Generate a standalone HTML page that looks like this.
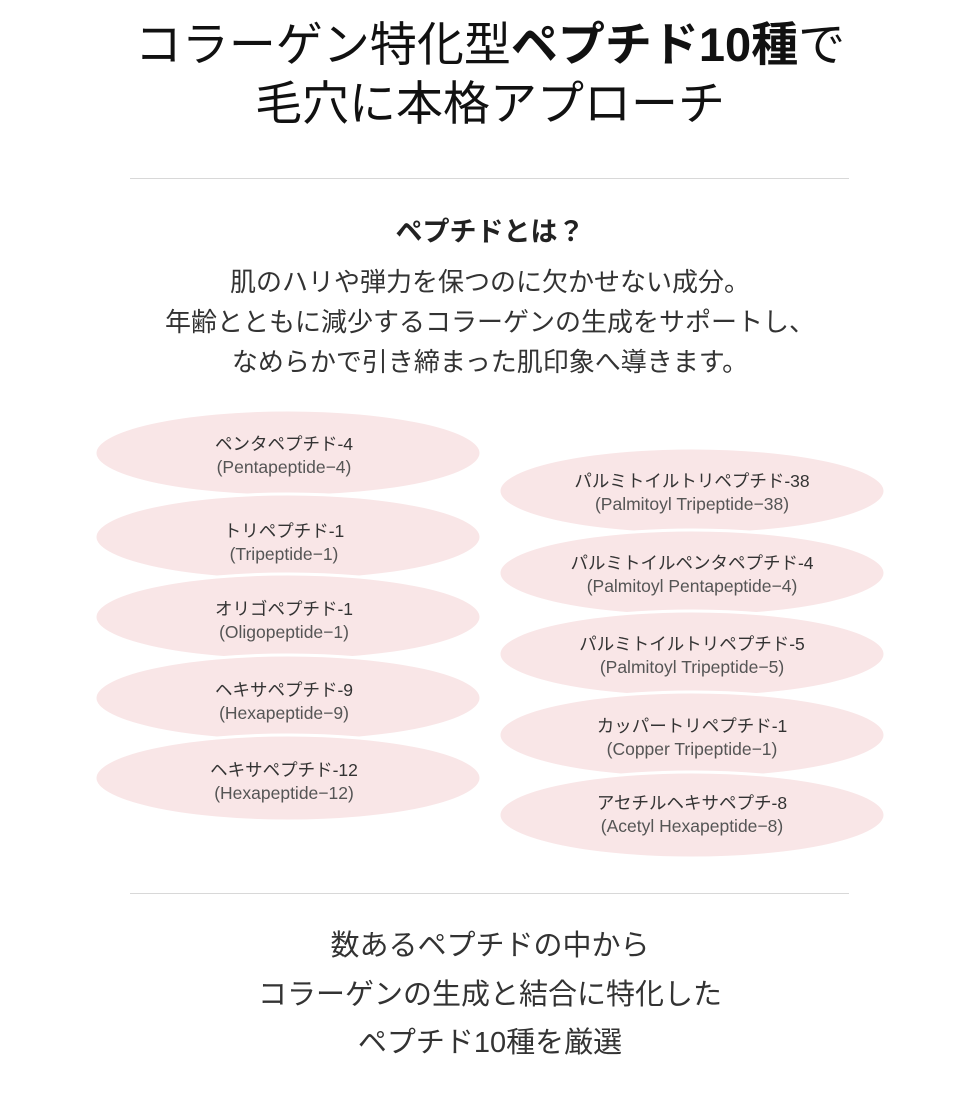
<!DOCTYPE html>
<html><head><meta charset="utf-8"><style>
body{margin:0;width:980px;height:1106px;background:#fff;font-family:"Liberation Sans","Noto Sans CJK JP",sans-serif;color:#222;position:relative;overflow:hidden}
.c{position:absolute;left:0;width:980px;text-align:center;white-space:nowrap}
.hr{position:absolute;left:130px;width:719px;height:1px;background:#d8d8d8}
</style></head><body>
<div class="c" style="top:15px;font-size:47px;line-height:59px;color:#111">コラーゲン特化型<b>ペプチド10種</b>で<br>毛穴に本格アプローチ</div>
<div class="hr" style="top:178px"></div>
<div class="c" style="top:214px;font-size:27px;font-weight:bold;line-height:36px">ペプチドとは？</div>
<div class="c" style="top:262px;font-size:26px;line-height:40px;color:#333">肌のハリや弾力を保つのに欠かせない成分。<br>年齢とともに減少するコラーゲンの生成をサポートし、<br>なめらかで引き締まった肌印象へ導きます。</div>
<svg style="position:absolute;left:0;top:0" width="980" height="1106">
<g fill="#f9e6e7" stroke="#fff" stroke-width="3">
<ellipse cx="288" cy="453" rx="193" ry="43"/>
<ellipse cx="288" cy="537" rx="193" ry="43"/>
<ellipse cx="288" cy="617" rx="193" ry="43"/>
<ellipse cx="288" cy="698" rx="193" ry="43"/>
<ellipse cx="288" cy="778" rx="193" ry="43"/>
<ellipse cx="692" cy="491" rx="193" ry="43"/>
<ellipse cx="692" cy="573" rx="193" ry="43"/>
<ellipse cx="692" cy="654" rx="193" ry="43"/>
<ellipse cx="692" cy="735" rx="193" ry="43"/>
<ellipse cx="692" cy="815" rx="193" ry="43"/>
</g>
<g font-family="Liberation Sans, Noto Sans CJK JP, sans-serif" font-size="17.5" fill="#333" text-anchor="middle">
<text x="284" y="450">ペンタペプチド-4</text><text x="284" y="473" fill="#555">(Pentapeptide−4)</text>
<text x="284" y="537">トリペプチド-1</text><text x="284" y="560" fill="#555">(Tripeptide−1)</text>
<text x="284" y="615">オリゴペプチド-1</text><text x="284" y="638" fill="#555">(Oligopeptide−1)</text>
<text x="284" y="696">ヘキサペプチド-9</text><text x="284" y="719" fill="#555">(Hexapeptide−9)</text>
<text x="284" y="776">ヘキサペプチド-12</text><text x="284" y="799" fill="#555">(Hexapeptide−12)</text>
<text x="692" y="487">パルミトイルトリペプチド-38</text><text x="692" y="510" fill="#555">(Palmitoyl Tripeptide−38)</text>
<text x="692" y="569">パルミトイルペンタペプチド-4</text><text x="692" y="592" fill="#555">(Palmitoyl Pentapeptide−4)</text>
<text x="692" y="650">パルミトイルトリペプチド-5</text><text x="692" y="673" fill="#555">(Palmitoyl Tripeptide−5)</text>
<text x="692" y="732">カッパートリペプチド-1</text><text x="692" y="755" fill="#555">(Copper Tripeptide−1)</text>
<text x="692" y="809">アセチルヘキサペプチ-8</text><text x="692" y="832" fill="#555">(Acetyl Hexapeptide−8)</text>
</g>
</svg>
<div class="hr" style="top:893px"></div>
<div class="c" style="top:922px;font-size:29px;line-height:48.5px;color:#333">数あるペプチドの中から<br>コラーゲンの生成と結合に特化した<br>ペプチド10種を厳選</div>
</body></html>
